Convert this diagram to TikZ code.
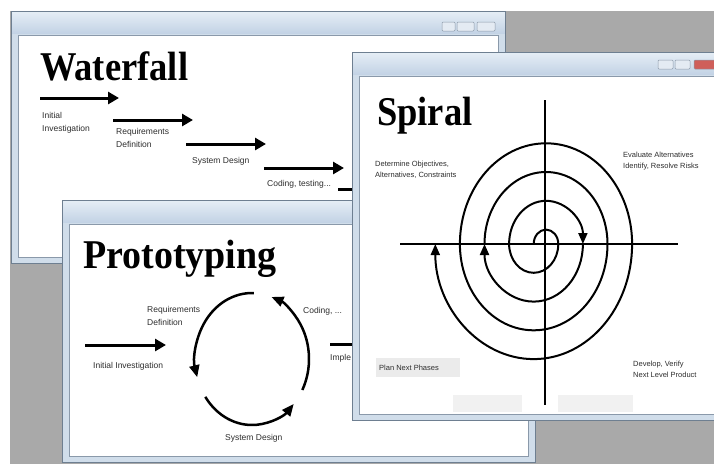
\documentclass[tikz,border=0pt]{standalone}
\usepackage{fontspec}
\setmainfont{Liberation Serif}
\newfontfamily\labfont{Liberation Sans}
\usepackage{graphicx}
\usetikzlibrary{arrows.meta,calc}
\definecolor{bggray}{HTML}{A9A9A9}
\definecolor{titletop}{HTML}{E6EEF6}
\definecolor{titlebot}{HTML}{C3D3E5}
\definecolor{framecol}{HTML}{D0DDEA}
\definecolor{winedge}{HTML}{6E7F91}
\definecolor{inneredge}{HTML}{8A99AA}
\definecolor{btnfill}{HTML}{E4EBF3}
\definecolor{btnedge}{HTML}{8D9BAA}
\definecolor{closered}{HTML}{CF5F5A}
\definecolor{labcol}{HTML}{2E2E2E}
\definecolor{ghost}{HTML}{EBEBEB}
\definecolor{ghostb}{HTML}{F1F1F1}
\newcommand{\drawwin}[4]{%
  \fill[framecol] (#1,-#2) rectangle (#3,-#4);
  \shade[top color=titletop,bottom color=titlebot] (#1,-#2) rectangle (#3,{-(#2+22)});
  \draw[winedge,line width=1pt] (#1,-#2) rectangle (#3,-#4);
  \draw[inneredge,fill=white,line width=0.8pt] ({#1+7},{-(#2+24)}) rectangle ({#3-7},{-(#4-6)});
}
\newcommand{\winbtn}[5]{%
  \draw[btnedge,fill=#5,line width=0.5pt,rounded corners=1pt] (#1,-#2) rectangle (#3,-#4);
}
\tikzset{
  lab/.style={font=\labfont\fontsize{8.5}{12.5}\selectfont,text=labcol,inner sep=0pt,align=left,anchor=base west},
  slab/.style={font=\labfont\fontsize{7.5}{11}\selectfont,text=labcol,inner sep=0pt,align=left,anchor=base west},
  wtitle/.style={font=\bfseries\fontsize{36.5}{40}\selectfont,inner sep=0pt,anchor=base west},
  bigarrow/.style={line width=3pt,-{Triangle[length=11pt,width=12pt]}},
  cyclearc/.style={line width=2.5pt,-{Triangle[length=12pt,width=10pt]}},
  spline/.style={line width=2pt},
  sparrow/.style={line width=2pt,-{Triangle[length=11pt,width=9pt]}}
}
\begin{document}
\begin{tikzpicture}[x=1pt,y=1pt]
\clip (0,0) rectangle (714,-464);
\fill[white] (0,0) rectangle (714,-464);
\fill[bggray] (10,-11) rectangle (714,-464);

% ---------------- Waterfall window ----------------
\drawwin{11}{11}{505}{263}
\winbtn{442}{22}{455}{31}{btnfill}
\winbtn{457}{22}{474}{31}{btnfill}
\winbtn{477}{22}{495}{31}{btnfill}
\node[wtitle] (wtitle) at (40,-80) {\scalebox{1}[1.12]{Waterfall}};
\coordinate (wa1) at (40,-98);  \coordinate (wb1) at (119,-98);
\coordinate (wa2) at (113,-120); \coordinate (wb2) at (193,-120);
\coordinate (wa3) at (186,-144); \coordinate (wb3) at (266,-144);
\coordinate (wa4) at (264,-168); \coordinate (wb4) at (344,-168);
\coordinate (wa5) at (338,-189); \coordinate (wb5) at (360,-189);
\draw[bigarrow] (wa1) -- (wb1);
\draw[bigarrow] (wa2) -- (wb2);
\draw[bigarrow] (wa3) -- (wb3);
\draw[bigarrow] (wa4) -- (wb4);
\draw[line width=3pt] (wa5) -- (wb5);
\node[lab] (wl1) at (42,-131) {Initial\\Investigation};
\node[lab] (wl2) at (116,-147) {Requirements\\Definition};
\node[lab] (wl3) at (192,-163) {System Design};
\node[lab] (wl4) at (267,-186) {Coding, testing...};

% ---------------- Prototyping window ----------------
\drawwin{62}{200}{535}{462}
\node[wtitle] (ptitle) at (83,-268) {\scalebox{1.04}[1.12]{Prototyping}};
\coordinate (pa1) at (85,-345); \coordinate (pb1) at (166,-345);
\draw[bigarrow] (pa1) -- (pb1);
\coordinate (pa2) at (330,-344); \coordinate (pb2) at (360,-344);
\draw[line width=3pt] (pa2) -- (pb2);
\coordinate (pc) at (252,-359);
\draw[cyclearc] ([shift={(88:57 and 66)}]pc) arc[start angle=88,end angle=196,x radius=57,y radius=66];
\draw[cyclearc] ([shift={(215:57 and 66)}]pc) arc[start angle=215,end angle=317,x radius=57,y radius=66];
\draw[cyclearc] ([shift={(-28:57 and 66)}]pc) arc[start angle=-28,end angle=70,x radius=57,y radius=66];
\node[lab] (pl1) at (147,-325) {Requirements\\Definition};
\node[lab] (pl2) at (93,-368) {Initial Investigation};
\node[lab] (pl3) at (303,-313) {Coding, ...};
\node[lab] (pl4) at (225,-440) {System Design};
\node[lab] (pl5) at (330,-360) {Imple};

% ---------------- Spiral window ----------------
\drawwin{352}{52}{722}{420}
\winbtn{658}{60}{673}{69}{btnfill}
\winbtn{675}{60}{690}{69}{btnfill}
\winbtn{694}{60}{716}{69}{closered}
\fill[ghost] (376,-358) rectangle (460,-377);
\fill[ghostb] (453,-395) rectangle (522,-412);
\fill[ghostb] (558,-395) rectangle (633,-412);
\node[wtitle] (stitle) at (377,-125) {\scalebox{1}[1.12]{Spiral}};
\coordinate (vt) at (545,-100); \coordinate (vb) at (545,-405);
\coordinate (hl) at (400,-244); \coordinate (hr) at (678,-244);
\draw[spline] (vt) -- (vb);
\draw[spline] (hl) -- (hr);
\coordinate (s0) at (533.7,-244);
\draw[sparrow] (s0)
  arc[start angle=180,end angle=0,x radius=12.3,y radius=14.4]
  arc[start angle=0,end angle=-180,x radius=24.6,y radius=28.8]
  arc[start angle=180,end angle=0,x radius=36.9,y radius=43.2] coordinate (s1);
\draw[sparrow] (s1)
  arc[start angle=0,end angle=-180,x radius=49.2,y radius=57.6] coordinate (s2);
\draw[sparrow] (s2)
  arc[start angle=180,end angle=0,x radius=61.5,y radius=72]
  arc[start angle=0,end angle=-180,x radius=73.8,y radius=86.3]
  arc[start angle=180,end angle=0,x radius=86.1,y radius=100.7]
  arc[start angle=0,end angle=-180,x radius=98.4,y radius=115.1];
\node[slab] (sl1) at (375,-177) {Determine Objectives,\\Alternatives, Constraints};
\node[slab] (sl2) at (623,-168) {Evaluate Alternatives\\Identify, Resolve Risks};
\node[slab] (sl3) at (379,-370) {Plan Next Phases};
\node[slab] (sl4) at (633,-377) {Develop, Verify\\Next Level Product};
\end{tikzpicture}
\end{document}
